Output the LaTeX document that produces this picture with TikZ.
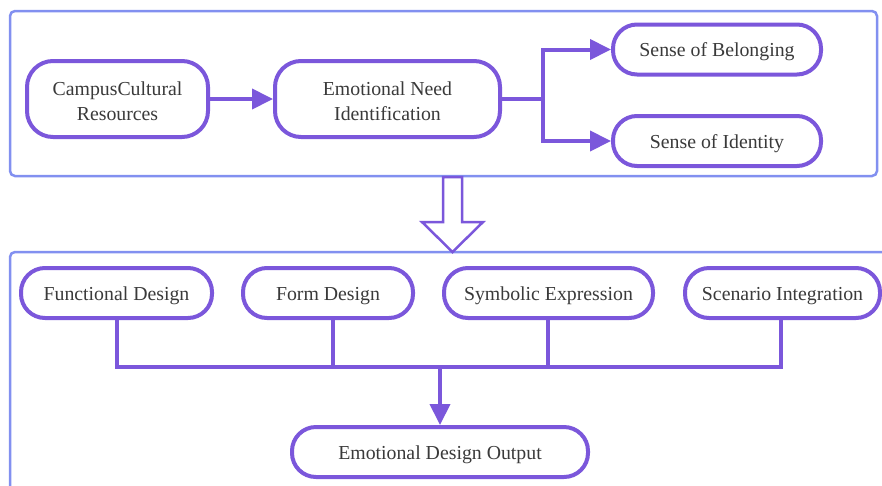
\documentclass[tikz,border=0pt]{standalone}
\usepackage{fontspec}
\setmainfont{Liberation Serif}
\usetikzlibrary{arrows.meta}
\definecolor{nodepurple}{HTML}{7B57DB}
\definecolor{boxblue}{HTML}{8290F0}
\definecolor{txt}{HTML}{3A3A3A}
\tikzset{
  pill/.style={draw=nodepurple, line width=4pt, fill=white, rounded corners=24pt,
    minimum height=50pt, inner sep=0pt, align=center, text=txt,
    font=\fontsize{19.8}{25}\selectfont},
  oneline/.style={text height=17pt, text depth=3pt},
  conn/.style={draw=nodepurple, line width=4pt},
  arr/.style={conn, -{Triangle[length=21pt,width=20pt]}},
  container/.style={draw=boxblue, line width=2.5pt, rounded corners=5pt},
}
\begin{document}
\begin{tikzpicture}[x=1pt,y=-1pt]
\useasboundingbox (0,0) rectangle (882,485);
% containers
\draw[container] (10,11) rectangle (877,176);
\draw[container] (10,490) -- (10,252) -- (890,252);
% top nodes
\node[pill, minimum width=181pt, minimum height=76pt, rounded corners=26pt] (campus) at (117.5,99) {\strut CampusCultural\\Resources};
\node[pill, minimum width=225pt, minimum height=76pt, rounded corners=26pt] (need) at (387.5,99) {\strut Emotional Need\\Identification};
\node[pill, oneline, minimum width=208pt] (belong) at (717,49.5) {Sense of Belonging};
\node[pill, oneline, minimum width=208pt] (ident) at (717,141) {Sense of Identity};
\coordinate (split) at (543,99);
\draw[arr] (campus) -- (need);
\draw[conn] (need.east) -- (split);
\draw[arr] (split) |- (belong.west);
\draw[arr] (split) |- (ident.west);
% hollow arrow
\draw[draw=nodepurple, line width=2.5pt, fill=white, line join=miter]
  (443,177) -- (462,177) -- (462,222) -- (483,222) -- (452.5,252) -- (422,222) -- (443,222) -- cycle;
% bottom nodes
\node[pill, oneline, minimum width=191pt] (func) at (116.5,293) {Functional Design};
\node[pill, oneline, minimum width=170pt] (form) at (328,293) {Form Design};
\node[pill, oneline, minimum width=209pt] (symb) at (548.5,293) {Symbolic Expression};
\node[pill, oneline, minimum width=195pt] (scen) at (782.5,293) {Scenario Integration};
\node[pill, oneline, minimum width=296pt] (out) at (440,452) {Emotional Design Output};
\coordinate (busL) at (117,367);
\coordinate (busR) at (781,367);
\coordinate (busM) at (440,367);
\draw[conn] (func.south -| busL) -- (busL);
\draw[conn] (333,318) -- (333,367);
\draw[conn] (548,318) -- (548,367);
\draw[conn] (scen.south -| busR) -- (busR);
\draw[conn, line cap=rect] (busL) -- (busR);
\draw[arr] (busM) -- (out.north);
\end{tikzpicture}
\end{document}
